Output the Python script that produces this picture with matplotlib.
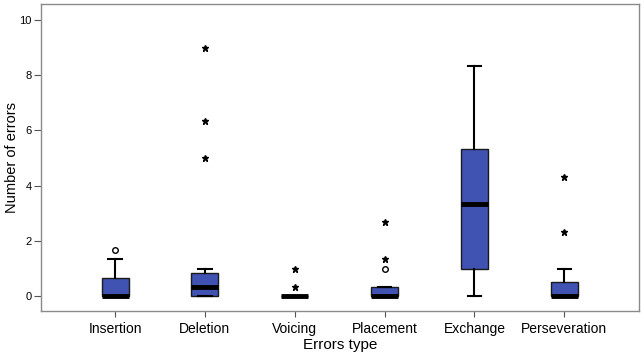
import matplotlib
matplotlib.use("Agg")
import matplotlib.pyplot as plt

plt.rcParams['font.family'] = ['Liberation Sans', 'DejaVu Sans']

categories = ["Insertion", "Deletion", "Voicing", "Placement", "Exchange", "Perseveration"]
q1 = [0, 0, 0, 0, 1.0, 0]
med = [0, 0.33, 0, 0, 3.33, 0]
q3 = [0.67, 0.83, 0, 0.33, 5.33, 0.5]
whislo = [0, 0, 0, 0, 0, 0]
whishi = [1.33, 1.0, 0, 0.33, 8.33, 1.0]
outliers = [[1.67], [], [], [1.0], [], []]
extremes = [[], [5.0, 6.33, 9.0], [0.33, 1.0], [1.33, 2.67], [], [2.33, 4.33]]

fig = plt.figure(figsize=(6.44, 3.58), dpi=100)
ax = fig.add_axes([0.064, 0.131, 0.928, 0.858])

stats = []
for i, c in enumerate(categories):
    stats.append(dict(label=c, q1=q1[i], med=med[i], q3=q3[i],
                      whislo=whislo[i], whishi=whishi[i], fliers=[]))
pos = list(range(1, len(categories) + 1))
ax.bxp(stats, positions=pos, widths=0.3, patch_artist=True, showfliers=False,
       boxprops=dict(facecolor='#4053b3', edgecolor='#1a1a1a', linewidth=1.0),
       medianprops=dict(color='black', linewidth=3.5, solid_capstyle='butt'),
       whiskerprops=dict(color='black', linewidth=1.5),
       capprops=dict(color='black', linewidth=1.5), capwidths=0.15)

for i in range(len(categories)):
    if outliers[i]:
        ax.plot([pos[i]] * len(outliers[i]), outliers[i], 'o', mfc='white',
                mec='black', ms=4, mew=1.0)
    if extremes[i]:
        ax.plot([pos[i]] * len(extremes[i]), extremes[i], '*', color='black', ms=5)

ax.set_xlim(0.178, 6.83)
ax.set_ylim(-0.54, 10.58)
ax.set_xticks(pos)
ax.set_xticklabels(categories, fontsize=10)
ax.set_yticks([0, 2, 4, 6, 8, 10])
ax.tick_params(axis='y', labelsize=8, length=5, pad=2, color='#555555')
ax.tick_params(axis='x', length=4, color='#555555')
for s in ax.spines.values():
    s.set_color('#8a8a8a')
    s.set_linewidth(1.0)
ax.set_xlabel("Errors type", fontsize=11, labelpad=2)
ax.set_ylabel("Number of errors", fontsize=10.5)
ax.yaxis.set_label_coords(-0.038, 0.5)

fig.savefig("out.png", dpi=100)
